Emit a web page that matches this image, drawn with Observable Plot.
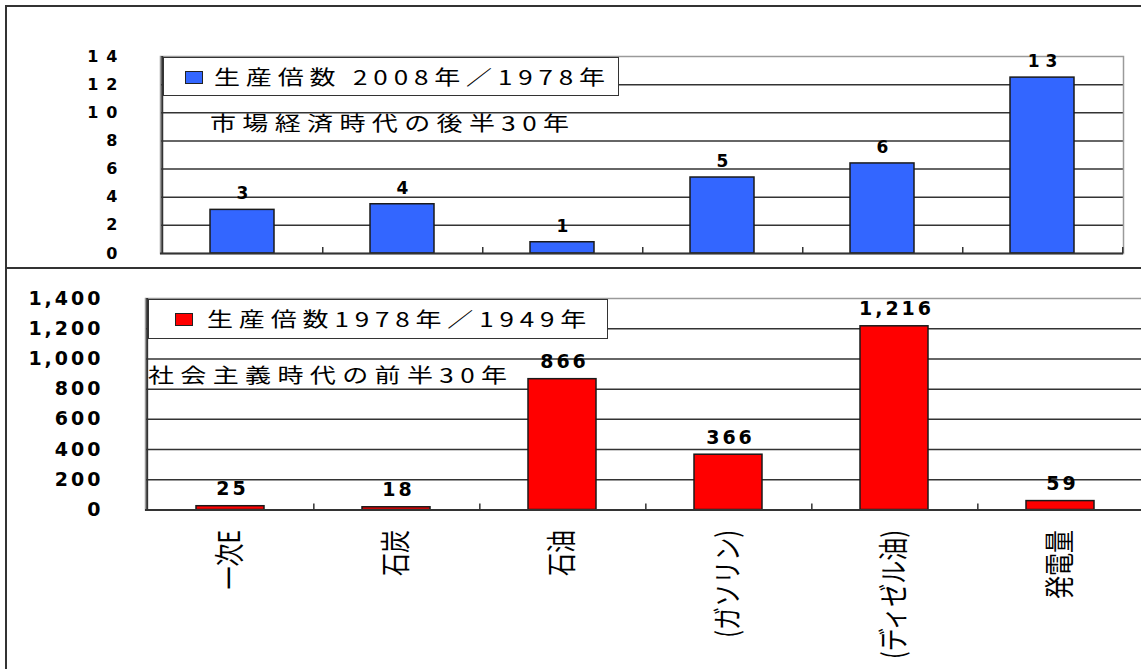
<!DOCTYPE html>
<html><head><meta charset="utf-8">
<script src="https://cdn.jsdelivr.net/npm/d3@7"></script>
<script src="https://cdn.jsdelivr.net/npm/@observablehq/plot@0.6"></script>
<style>
body{margin:0;background:#fff;}
#wrap{position:relative;width:1141px;height:669px;overflow:hidden;background:#fff;}
.chart{position:absolute;left:0;}
.line{position:absolute;background:#333;}
.legend{position:absolute;background:#fff;border:1.5px solid #333;box-sizing:border-box;font-family:"Noto Sans CJK JP";font-size:20px;letter-spacing:4.5px;color:#000;white-space:nowrap;line-height:1;}
.legend .sw{position:absolute;border:1.5px solid #222;box-sizing:border-box;}
.legend .tx{position:absolute;transform:scaleX(1.3);transform-origin:left center;}
.note{position:absolute;font-family:"Noto Sans CJK JP";font-size:20px;letter-spacing:4.9px;white-space:nowrap;line-height:1;color:#000;transform:scaleX(1.3);transform-origin:left center;}
.topc g[aria-label="y-axis tick label"] text{letter-spacing:8px;}
.botc g[aria-label="y-axis tick label"] text{letter-spacing:3px;}
.topc g[aria-label="text"] text{letter-spacing:6px;}
.botc g[aria-label="text"] text{letter-spacing:3px;}
</style></head><body><div id="wrap"></div>
<script>
const categories = ["一次E", "石炭", "石油", "(ガソリン)", "(ディゼル油)", "発電量"];
const ratio2008_1978 = [3.1, 3.5, 0.8, 5.4, 6.4, 12.5];
const ratio1978_1949 = [25, 18, 866, 366, 1216, 59];
const topTicks = [0, 2, 4, 6, 8, 10, 12, 14];
const bottomTicks = [0, 200, 400, 600, 800, 1000, 1200, 1400];
const topLegend = "生産倍数 2008年／1978年";
const bottomLegend = "生産倍数1978年／1949年";
const topNote = "市場経済時代の後半30年";
const bottomNote = "社会主義時代の前半30年";

const W = 1141;
const wrap = document.getElementById("wrap");
const numFont = "DejaVu Sans";

// ---- top chart ----
const topData = categories.map((c, i) => ({cat: c, v: ratio2008_1978[i]}));
const tML = 160, tMR = 18;
const tStep = (W - tML - tMR) / categories.length;
const topChart = Plot.plot({
  width: W, height: 268,
  marginLeft: tML, marginRight: tMR, marginTop: 56, marginBottom: 15,
  className: "topc",
  style: {fontFamily: numFont, background: "transparent", color: "#000"},
  x: {domain: categories, paddingInner: 0.6, paddingOuter: 0.3, axis: null},
  y: {domain: [0, 14], axis: null},
  marks: [
    Plot.ruleY(topTicks.slice(1, -1), {stroke: "#333", strokeWidth: 1.5}),
    Plot.frame({stroke: "#9a9a9a", strokeWidth: 1.5}),
    Plot.barY(topData, {x: "cat", y: "v", fill: "#3366FF", stroke: "#1a1a1a", strokeWidth: 1.5}),
    Plot.ruleY([0], {stroke: "#333", strokeWidth: 2}),
    Plot.ruleX([categories[0]], {x: d => d, dx: -tStep / 2, stroke: "#333", strokeWidth: 2}),
    Plot.ruleX(categories, {x: d => d, dx: tStep / 2, y1: 0, y2: 0, insetTop: -6, stroke: "#333", strokeWidth: 1.5}),
    Plot.axisY({ticks: topTicks, label: null, tickSize: 0, tickPadding: 35, fontSize: 16, fontWeight: "bold", fontFamily: numFont}),
    Plot.text(topData, {x: "cat", y: "v", text: d => String(Math.round(d.v)), dy: -16, dx: 3, fontSize: 17, fontWeight: "bold", fontFamily: numFont})
  ]
});
topChart.style.top = "0px";
topChart.classList.add("chart");
wrap.appendChild(topChart);

// ---- bottom chart ----
const botData = categories.map((c, i) => ({cat: c, v: ratio1978_1949[i]}));
const bML = 145, bMR = -4;
const bStep = (W - bML - bMR) / categories.length;
const botChart = Plot.plot({
  width: W, height: 401,
  marginLeft: bML, marginRight: bMR, marginTop: 30, marginBottom: 159.5,
  className: "botc",
  style: {fontFamily: numFont, background: "transparent", color: "#000"},
  x: {domain: categories, paddingInner: 0.59, paddingOuter: 0.295, axis: null},
  y: {domain: [0, 1400], axis: null},
  marks: [
    Plot.ruleY(bottomTicks.slice(1, -1), {stroke: "#333", strokeWidth: 1.5}),
    Plot.frame({stroke: "#9a9a9a", strokeWidth: 1.5}),
    Plot.barY(botData, {x: "cat", y: "v", fill: "#FF0000", stroke: "#1a1a1a", strokeWidth: 1.5}),
    Plot.ruleY([0], {stroke: "#333", strokeWidth: 2}),
    Plot.ruleX([categories[0]], {x: d => d, dx: -bStep / 2, stroke: "#333", strokeWidth: 2}),
    Plot.ruleX(categories, {x: d => d, dx: bStep / 2, y1: 0, y2: 0, insetTop: -6, stroke: "#333", strokeWidth: 1.5}),
    Plot.axisY({ticks: bottomTicks, label: null, tickFormat: d3.format(","), tickSize: 0, tickPadding: 42, fontSize: 19, fontWeight: "bold", fontFamily: numFont}),
    Plot.axisX({label: null, tickSize: 0, tickRotate: -90, tickPadding: 20, fontSize: 24, fontFamily: "Noto Sans CJK JP"}),
    Plot.text(botData, {x: "cat", y: "v", text: d => d3.format(",")(d.v), dy: -17, dx: 2, fontSize: 19, fontWeight: "bold", fontFamily: numFont})
  ]
});
botChart.style.top = "268px";
botChart.classList.add("chart");
wrap.appendChild(botChart);
// widen the rotated category labels across their height, as in the original
botChart.querySelectorAll('g[aria-label="x-axis tick label"] text').forEach(t => {
  const tr = t.getAttribute("transform");
  if (tr) t.setAttribute("transform", tr + " scale(0.96,1.22)");
});

// ---- legends & notes ----
function legend(left, top, w, h, color, swX, swY, swW, swH, txX, text) {
  const d = document.createElement("div");
  d.className = "legend";
  Object.assign(d.style, {left: left + "px", top: top + "px", width: w + "px", height: h + "px"});
  const s = document.createElement("div");
  s.className = "sw";
  Object.assign(s.style, {left: swX + "px", top: swY + "px", width: swW + "px", height: swH + "px", background: color});
  const t = document.createElement("div");
  t.className = "tx";
  t.textContent = text;
  Object.assign(t.style, {left: txX + "px", top: (h / 2 - 11) + "px"});
  d.appendChild(s); d.appendChild(t);
  wrap.appendChild(d);
}
legend(163, 57, 456, 39, "#3366FF", 21, 13, 18, 13, 50, topLegend);
legend(148, 299, 460, 40, "#FF0000", 26, 13, 18, 13, 58, bottomLegend);

function note(left, top, text) {
  const n = document.createElement("div");
  n.className = "note";
  n.textContent = text;
  Object.assign(n.style, {left: left + "px", top: top + "px"});
  wrap.appendChild(n);
}
note(210, 113, topNote);
note(148, 365, bottomNote);

// ---- outer frame ----
function line(l, t, w, h) {
  const e = document.createElement("div");
  e.className = "line";
  Object.assign(e.style, {left: l + "px", top: t + "px", width: w + "px", height: h + "px"});
  wrap.appendChild(e);
}
line(5, 5, 1136, 2);
line(5, 5, 2, 664);
line(5, 267, 1136, 2);
</script></body></html>
